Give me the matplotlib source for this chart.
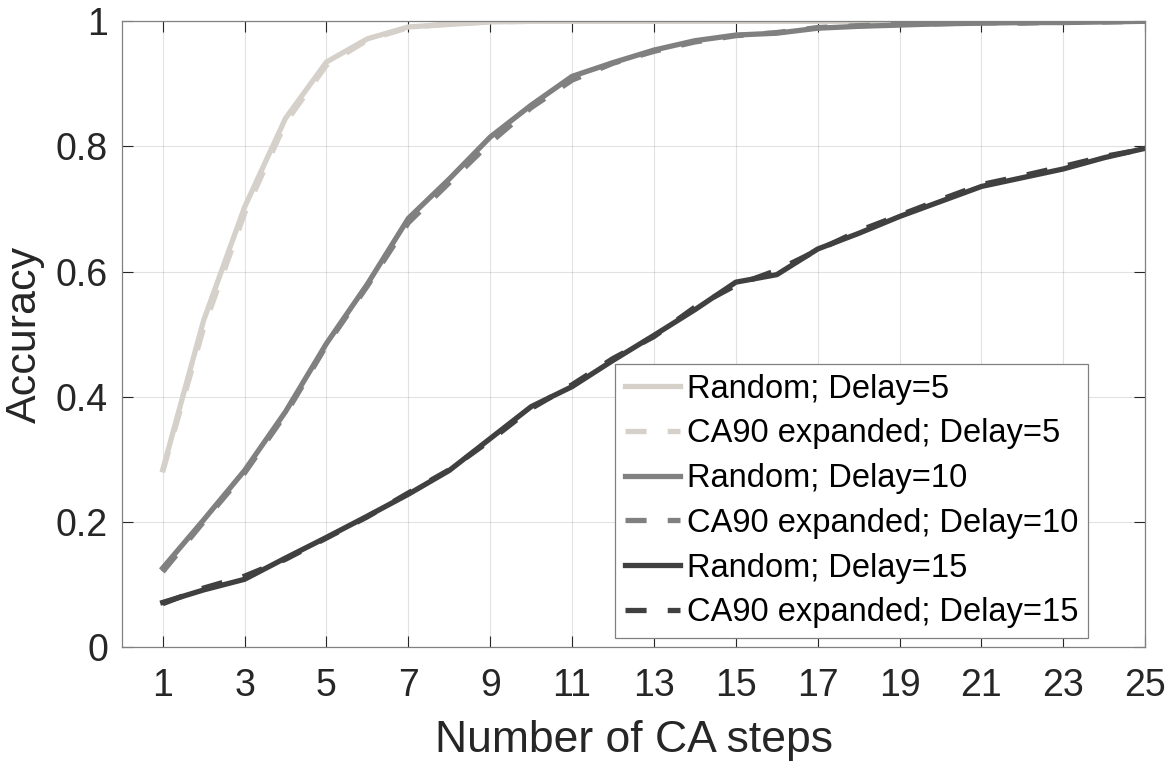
import matplotlib.pyplot as plt

plt.rcParams['font.family'] = ['Liberation Sans', 'DejaVu Sans']

steps = list(range(1, 26))

# accuracy
rand_d5 = [0.283, 0.522, 0.703, 0.845, 0.935, 0.972, 0.991, 0.995, 0.999, 1.0,
           1.0, 1.0, 1.0, 1.0, 1.0, 1.0, 1.0, 1.0, 1.0, 1.0,
           1.0, 1.0, 1.0, 1.0, 1.0]
ca90_d5 = [0.280, 0.510, 0.693, 0.838, 0.930, 0.970, 0.990, 0.996, 0.999, 1.0,
           1.0, 1.0, 1.0, 1.0, 1.0, 1.0, 1.0, 1.0, 1.0, 1.0,
           1.0, 1.0, 1.0, 1.0, 1.0]
rand_d10 = [0.126, 0.203, 0.282, 0.376, 0.485, 0.580, 0.685, 0.748, 0.815, 0.866,
            0.912, 0.934, 0.954, 0.969, 0.978, 0.981, 0.989, 0.992, 0.994, 0.996,
            0.997, 0.998, 0.998, 0.999, 1.0]
ca90_d10 = [0.120, 0.200, 0.278, 0.372, 0.482, 0.577, 0.678, 0.742, 0.806, 0.862,
            0.906, 0.933, 0.952, 0.967, 0.977, 0.982, 0.990, 0.993, 0.995, 0.996,
            0.998, 0.997, 0.999, 0.999, 1.0]
rand_d15 = [0.071, 0.091, 0.108, 0.142, 0.175, 0.209, 0.244, 0.282, 0.333, 0.384,
            0.416, 0.458, 0.498, 0.539, 0.583, 0.595, 0.636, 0.661, 0.688, 0.712,
            0.736, 0.750, 0.764, 0.782, 0.797]
ca90_d15 = [0.069, 0.094, 0.113, 0.140, 0.174, 0.208, 0.246, 0.283, 0.330, 0.381,
            0.419, 0.461, 0.496, 0.543, 0.578, 0.602, 0.634, 0.665, 0.690, 0.715,
            0.739, 0.753, 0.768, 0.784, 0.796]

light = '#d5d1ca'
mid = '#808080'
dark = '#404040'

fig = plt.figure(figsize=(11.71, 7.61), dpi=100)
ax = fig.add_axes([0.104, 0.150, 0.874, 0.822])

lw = 3.8
ax.plot(steps, rand_d5, color=light, lw=lw, label='Random; Delay=5')
ax.plot(steps, ca90_d5, color=light, lw=lw, dashes=(4, 4), label='CA90 expanded; Delay=5')
ax.plot(steps, rand_d10, color=mid, lw=lw, label='Random; Delay=10')
ax.plot(steps, ca90_d10, color=mid, lw=lw, dashes=(4, 4), label='CA90 expanded; Delay=10')
ax.plot(steps, rand_d15, color=dark, lw=lw, label='Random; Delay=15')
ax.plot(steps, ca90_d15, color=dark, lw=lw, dashes=(4, 4), label='CA90 expanded; Delay=15')

ax.set_xlim(0, 25)
ax.set_ylim(0, 1)
ax.set_xticks(range(1, 26, 2))
ax.set_yticks([0, 0.2, 0.4, 0.6, 0.8, 1])
ax.set_yticklabels(['0', '0.2', '0.4', '0.6', '0.8', '1'])
ax.grid(True, color='#262626', alpha=0.13, lw=0.8)
ax.tick_params(direction='in', top=True, right=True, length=8, width=0.8,
               labelsize=27, colors='#262626', pad=10)
ax.tick_params(axis='x', pad=15)
for s in ax.spines.values():
    s.set_color('#808080')
    s.set_linewidth(0.9)

ax.set_xlabel('Number of CA steps', fontsize=32, color='#262626', labelpad=12)
ax.set_ylabel('Accuracy', fontsize=31, color='#262626', labelpad=8)

leg = ax.legend(loc='lower right', bbox_to_anchor=(0.944, 0.014), fontsize=23.5,
                fancybox=False, framealpha=1, edgecolor='#808080',
                handlelength=1.7, handletextpad=0.2, labelspacing=0.42,
                borderpad=0.3, borderaxespad=0.0)
leg.get_frame().set_linewidth(0.9)

fig.savefig('out.png', dpi=100)
